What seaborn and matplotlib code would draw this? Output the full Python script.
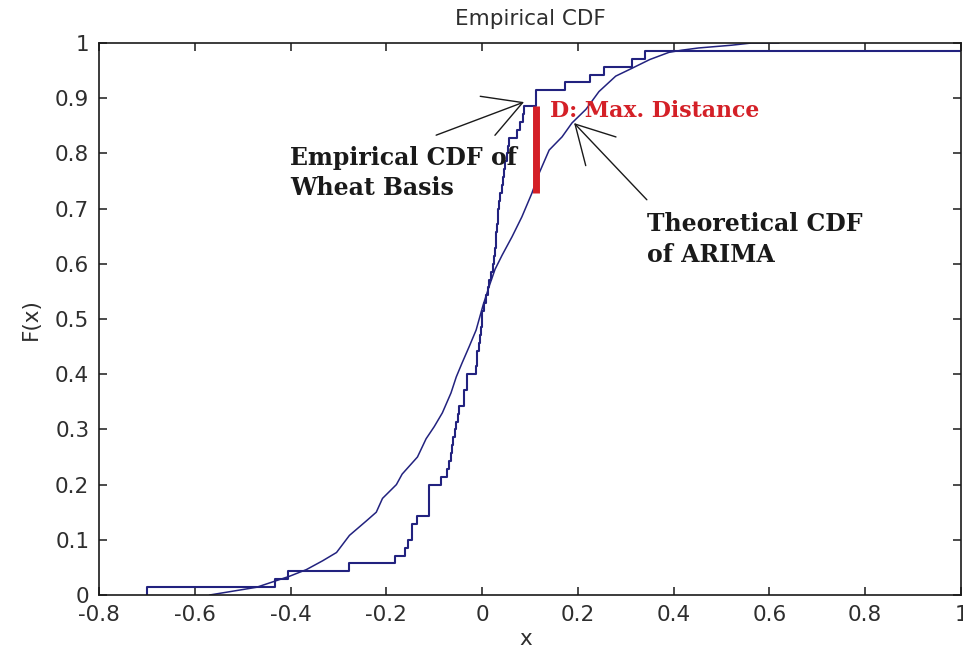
import numpy as np
import pandas as pd
import matplotlib
matplotlib.use("Agg")
import matplotlib.pyplot as plt
import seaborn as sns

# ---------------- data ----------------
# sample whose empirical CDF is drawn (Wheat Basis); one value lies beyond x = 1
wheat_basis = [
    -0.700, -0.433, -0.406, -0.277, -0.181, -0.162, -0.155, -0.147, -0.147, -0.137,
    -0.110, -0.110, -0.110, -0.110, -0.085, -0.073, -0.070, -0.066, -0.063, -0.060,
    -0.057, -0.054, -0.051, -0.048, -0.037, -0.037, -0.031, -0.031, -0.0125, -0.011,
    -0.010, -0.007, -0.004, -0.002, -0.001, 0.000, 0.004, 0.009, 0.013, 0.015,
    0.019, 0.022, 0.025, 0.027, 0.028, 0.029, 0.031, 0.033, 0.034, 0.035,
    0.038, 0.041, 0.044, 0.046, 0.048, 0.051, 0.054, 0.056, 0.073, 0.080,
    0.085, 0.0875, 0.112, 0.112, 0.174, 0.226, 0.254, 0.3125, 0.341, 1.200,
]

# theoretical CDF of the ARIMA model
arima_x = [-0.569, -0.527, -0.471, -0.433, -0.402, -0.367, -0.333, -0.304, -0.277, -0.242,
           -0.221, -0.208, -0.179, -0.167, -0.135, -0.117, -0.100, -0.083, -0.065, -0.054,
           -0.042, -0.027, -0.0125, 0.002, 0.015, 0.027, 0.042, 0.0625, 0.083, 0.104,
           0.119, 0.140, 0.167, 0.1875, 0.217, 0.244, 0.279, 0.3125, 0.35, 0.39,
           0.417, 0.452, 0.521, 0.5625, 0.62]
arima_F = [0.000, 0.006, 0.014, 0.025, 0.034, 0.046, 0.062, 0.077, 0.108, 0.134,
           0.150, 0.175, 0.200, 0.219, 0.250, 0.283, 0.305, 0.330, 0.366, 0.395,
           0.420, 0.450, 0.480, 0.525, 0.560, 0.590, 0.616, 0.649, 0.685, 0.728,
           0.764, 0.806, 0.830, 0.855, 0.880, 0.912, 0.940, 0.954, 0.970, 0.983,
           0.987, 0.991, 0.996, 1.000, 1.000]

# maximum distance D
d_x = 0.112
d_low = 0.728
d_high = 0.886

x_ticks = [-0.8, -0.6, -0.4, -0.2, 0.0, 0.2, 0.4, 0.6, 0.8, 1.0]
x_tick_labels = ["-0.8", "-0.6", "-0.4", "-0.2", "0", "0.2", "0.4", "0.6", "0.8", "1"]
y_ticks = [0.0, 0.1, 0.2, 0.3, 0.4, 0.5, 0.6, 0.7, 0.8, 0.9, 1.0]
y_tick_labels = ["0", "0.1", "0.2", "0.3", "0.4", "0.5", "0.6", "0.7", "0.8", "0.9", "1"]

title = "Empirical CDF"
label_emp = "Empirical CDF of\nWheat Basis"
label_theo = "Theoretical CDF\nof ARIMA"
label_d = "D: Max. Distance"

# ---------------- plotting ----------------
sns.set_style("ticks")
plt.rcParams["font.family"] = ["DejaVu Sans"]

LINE = "#22227f"
RED = "#d42027"
INK = "#1a1a1a"
TICKTXT = "#2e2e2e"

fig = plt.figure(figsize=(9.63, 6.54), dpi=100)
ax = fig.add_axes([99 / 963, 59 / 654, 862 / 963, 552 / 654])

emp_df = pd.DataFrame({"x": wheat_basis})
sns.ecdfplot(data=emp_df, x="x", ax=ax, color=LINE, linewidth=1.5)

theo_df = pd.DataFrame({"x": arima_x, "F": arima_F})
sns.lineplot(data=theo_df, x="x", y="F", ax=ax, color=LINE, linewidth=1.1,
             sort=False, estimator=None)

ax.vlines(d_x, d_low, d_high, color=RED, linewidth=5, zorder=5)

ax.set_xlim(-0.8, 1.0)
ax.set_ylim(0.0, 1.0)
ax.set_xticks(x_ticks)
ax.set_xticklabels(x_tick_labels)
ax.set_yticks(y_ticks)
ax.set_yticklabels(y_tick_labels)
ax.tick_params(direction="in", top=True, right=True, length=6, width=1.1,
               labelsize=15.5, color=INK, labelcolor=TICKTXT, pad=7)
for s in ax.spines.values():
    s.set_visible(True)
    s.set_color(INK)
    s.set_linewidth(1.2)

ax.set_title(title, fontsize=15.5, color=TICKTXT, pad=13)
ax.set_xlabel("x", fontsize=15.5, color=TICKTXT)
ax.set_ylabel("F(x)", fontsize=15.5, color=TICKTXT)
ax.xaxis.set_label_coords(0.495, -0.062)
ax.yaxis.set_label_coords(-0.068, 0.5)

serif = {"family": "DejaVu Serif", "weight": "bold"}
ax.text(-0.401, 0.814, label_emp, fontdict=serif, fontsize=17, color=INK,
        ha="left", va="top", linespacing=1.35, zorder=6)
ax.text(0.344, 0.694, label_theo, fontdict=serif, fontsize=17, color=INK,
        ha="left", va="top", linespacing=1.35, zorder=6)
ax.text(0.1415, 0.896, label_d, fontdict=serif, fontsize=15.8, color=RED,
        ha="left", va="top", zorder=6)

arrow = dict(arrowstyle="->,head_length=1.35,head_width=0.75", color=INK,
             linewidth=1.0, mutation_scale=20, shrinkA=0, shrinkB=0)
ax.annotate("", xy=(0.0875, 0.893), xytext=(-0.096, 0.833), arrowprops=arrow)
ax.annotate("", xy=(0.192, 0.855), xytext=(0.344, 0.716), arrowprops=arrow)

fig.savefig("out.png", dpi=100)
